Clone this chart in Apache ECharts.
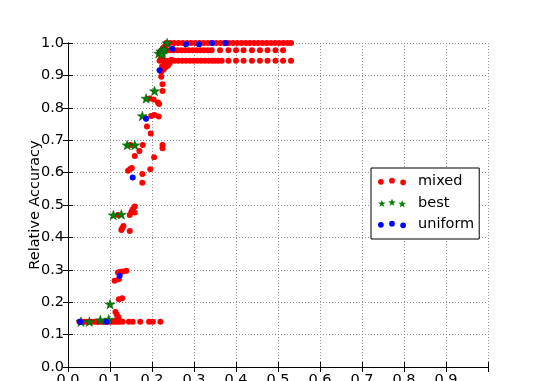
<!DOCTYPE html>
<html>
<head>
<meta charset="utf-8">
<script src="https://cdn.jsdelivr.net/npm/echarts@6/dist/echarts.min.js"></script>
<style>
  html, body { margin: 0; padding: 0; background: #fff; }
  #chart { width: 543px; height: 381px; }
</style>
</head>
<body>
<div id="chart"></div>
<script>
// mixed (red dots), grouped by the rows they sit on
const mixedRow100 = [
  [0.234, 1.0], [0.243, 1.0], [0.253, 1.0], [0.263, 1.0], [0.273, 1.0], [0.283, 1.0],
  [0.293, 1.0], [0.303, 1.0], [0.313, 1.0], [0.323, 1.0], [0.333, 1.0], [0.343, 1.0],
  [0.353, 1.0], [0.363, 1.0], [0.373, 1.0], [0.383, 1.0], [0.393, 1.0], [0.403, 1.0],
  [0.413, 1.0], [0.423, 1.0], [0.433, 1.0], [0.443, 1.0], [0.453, 1.0], [0.463, 1.0],
  [0.473, 1.0], [0.483, 1.0], [0.493, 1.0], [0.503, 1.0], [0.513, 1.0], [0.523, 1.0],
  [0.531, 1.0]
]
const mixedRow098 = [
  [0.234, 0.978], [0.243, 0.978], [0.252, 0.978], [0.261, 0.978], [0.270, 0.978],
  [0.279, 0.978], [0.288, 0.978], [0.297, 0.978], [0.306, 0.978], [0.315, 0.978],
  [0.324, 0.978], [0.333, 0.978], [0.342, 0.978], [0.362, 0.978], [0.382, 0.978],
  [0.400, 0.978], [0.418, 0.978], [0.438, 0.978], [0.457, 0.978], [0.475, 0.978],
  [0.494, 0.978], [0.512, 0.978]
]
const mixedRow095 = [
  [0.218, 0.945], [0.227, 0.945], [0.236, 0.945], [0.245, 0.945], [0.254, 0.945],
  [0.263, 0.945], [0.272, 0.945], [0.281, 0.945], [0.290, 0.945], [0.299, 0.945],
  [0.308, 0.945], [0.317, 0.945], [0.326, 0.945], [0.335, 0.945], [0.343, 0.945],
  [0.350, 0.945], [0.358, 0.945], [0.366, 0.945], [0.382, 0.945], [0.400, 0.945],
  [0.418, 0.945], [0.438, 0.945], [0.457, 0.945], [0.475, 0.945], [0.494, 0.945],
  [0.512, 0.945], [0.531, 0.945]
]
const mixedTop = [
  [0.218, 0.970], [0.223, 0.978], [0.227, 0.985], [0.231, 0.990], [0.235, 0.995],
  [0.222, 0.955], [0.226, 0.950], [0.230, 0.940], [0.234, 0.935], [0.238, 0.930],
  [0.242, 0.938], [0.246, 0.948], [0.232, 0.925], [0.228, 0.918], [0.224, 0.928],
  [0.222, 0.911], [0.222, 0.896], [0.225, 0.873], [0.225, 0.852]
]
const mixedRise = [
  [0.194, 0.829], [0.204, 0.826], [0.214, 0.816], [0.217, 0.812],
  [0.198, 0.775], [0.206, 0.778], [0.216, 0.773],
  [0.188, 0.742], [0.197, 0.721],
  [0.149, 0.685], [0.178, 0.685], [0.225, 0.685], [0.225, 0.675], [0.170, 0.667],
  [0.159, 0.651], [0.205, 0.647],
  [0.143, 0.606], [0.148, 0.611], [0.152, 0.614], [0.177, 0.596], [0.196, 0.610],
  [0.177, 0.569],
  [0.159, 0.495], [0.154, 0.487], [0.151, 0.479], [0.159, 0.477], [0.147, 0.469],
  [0.119, 0.469],
  [0.132, 0.435], [0.129, 0.428], [0.127, 0.423], [0.147, 0.420],
  [0.119, 0.292], [0.125, 0.294], [0.131, 0.295], [0.139, 0.297], [0.111, 0.266],
  [0.121, 0.271],
  [0.121, 0.209], [0.129, 0.212],
  [0.113, 0.170], [0.116, 0.162], [0.119, 0.155], [0.121, 0.148], [0.115, 0.145]
]
const mixedRow014 = [
  [0.027, 0.140], [0.033, 0.140], [0.039, 0.140], [0.045, 0.140], [0.051, 0.140],
  [0.057, 0.140], [0.063, 0.140], [0.069, 0.140], [0.075, 0.140], [0.081, 0.140],
  [0.087, 0.140], [0.093, 0.140], [0.099, 0.140], [0.105, 0.140], [0.111, 0.140],
  [0.117, 0.140], [0.123, 0.140], [0.130, 0.140], [0.145, 0.140], [0.154, 0.140],
  [0.172, 0.140], [0.193, 0.140], [0.202, 0.140], [0.220, 0.140]
]

// best (green stars)
const bestPoints = [
  [0.031, 0.140], [0.051, 0.140], [0.077, 0.145], [0.097, 0.147], [0.100, 0.194],
  [0.108, 0.469], [0.127, 0.471], [0.141, 0.685], [0.159, 0.685], [0.177, 0.775],
  [0.186, 0.829], [0.206, 0.852], [0.216, 0.968], [0.221, 0.975], [0.225, 0.972],
  [0.229, 0.980], [0.223, 0.965], [0.236, 1.0]
]

// uniform (blue dots)
const uniformPoints = [
  [0.029, 0.140], [0.092, 0.140], [0.123, 0.282], [0.154, 0.585], [0.186, 0.766],
  [0.218, 0.916], [0.249, 0.982], [0.281, 0.996], [0.312, 0.996], [0.343, 1.0],
  [0.375, 1.0]
]

const legendNames = ['mixed', 'best', 'uniform']
const yTitle = 'Relative Accuracy'

const FONT = 'DejaVu Sans'

// marker shapes
function starPath(cx, cy, R, r) {
  let d = ''
  for (let i = 0; i < 10; i++) {
    const a = (-90 + i * 36) * Math.PI / 180
    const rad = i % 2 ? r : R
    d += (i ? 'L' : 'M') + (cx + rad * Math.cos(a)).toFixed(2) + ',' + (cy + rad * Math.sin(a)).toFixed(2)
  }
  return d + 'Z'
}
function dotPath(cx, cy, r) {
  return 'M' + (cx - r) + ',' + cy + 'a' + r + ',' + r + ' 0 1,0 ' + (2 * r) + ',0a' + r + ',' + r + ' 0 1,0 ' + (-2 * r) + ',0Z'
}
const starSymbol = 'path://' + starPath(0, 0, 10, 4)
const dotsIcon = 'path://' + dotPath(3, 4, 2.6) + dotPath(13, 3, 2.6) + dotPath(23, 4.5, 2.6)
const starsIcon = 'path://' + starPath(4, 4.8, 4, 1.6) + starPath(14, 3.8, 4, 1.6) + starPath(24, 5.2, 4, 1.6)

const chart = echarts.init(document.getElementById('chart'), null, { renderer: 'canvas' })

const splitStyle = { show: true, lineStyle: { color: '#909090', type: [1, 2], width: 1 } }
const lineBlack = { show: true, lineStyle: { color: '#000', width: 1 } }
const tickIn = { show: true, inside: true, length: 5, lineStyle: { color: '#000' } }

const option = {
  animation: false,
  backgroundColor: '#fff',
  textStyle: { fontFamily: FONT },
  grid: { left: 68, right: 55, top: 43, bottom: 14, containLabel: false, outerBoundsMode: 'none' },
  legend: {
    orient: 'vertical',
    left: 371,
    top: 168,
    padding: [5, 5, 6, 7],
    itemGap: 4.5,
    itemWidth: 28,
    itemHeight: 9,
    backgroundColor: '#fff',
    borderColor: '#000',
    borderWidth: 1,
    borderRadius: 0,
    textStyle: { fontFamily: FONT, fontSize: 14.5, color: '#000', lineHeight: 17, padding: [0, 0, 0, 7] },
    data: [
      { name: legendNames[0], icon: dotsIcon, itemStyle: { color: '#ff0000', borderWidth: 0 } },
      { name: legendNames[1], icon: starsIcon, itemStyle: { color: '#008000', borderWidth: 0 } },
      { name: legendNames[2], icon: dotsIcon, itemStyle: { color: '#0000ff', borderWidth: 0 } }
    ]
  },
  xAxis: [
    {
      type: 'value', min: 0, max: 1, interval: 0.1, position: 'bottom',
      axisLine: lineBlack, axisTick: tickIn, splitLine: splitStyle,
      axisLabel: {
        margin: 6, color: '#000', fontFamily: FONT, fontSize: 14.5,
        formatter: v => (v > 0.95 ? '' : v.toFixed(1))
      }
    },
    {
      type: 'value', min: 0, max: 1, interval: 0.1, position: 'top',
      axisLine: lineBlack, axisTick: tickIn, splitLine: { show: false }, axisLabel: { show: false }
    }
  ],
  yAxis: [
    {
      type: 'value', min: 0, max: 1, interval: 0.1, position: 'left',
      name: yTitle, nameLocation: 'middle', nameGap: 25, nameRotate: 90, nameMoveOverlap: false,
      nameTextStyle: { color: '#000', fontFamily: FONT, fontSize: 14.5 },
      axisLine: lineBlack, axisTick: tickIn, splitLine: splitStyle,
      axisLabel: { margin: 4, color: '#000', fontFamily: FONT, fontSize: 14.5, formatter: v => v.toFixed(1) }
    },
    {
      type: 'value', min: 0, max: 1, interval: 0.1, position: 'right',
      axisLine: lineBlack, axisTick: tickIn, splitLine: { show: false }, axisLabel: { show: false }
    }
  ],
  series: [
    {
      name: legendNames[0], type: 'scatter', symbol: 'circle', symbolSize: 6,
      itemStyle: { color: '#ff0000', opacity: 1 },
      data: [].concat(mixedRow014, mixedRise, mixedTop, mixedRow095, mixedRow098, mixedRow100)
    },
    {
      name: legendNames[1], type: 'scatter', symbol: starSymbol, symbolSize: 10, symbolKeepAspect: true,
      itemStyle: { color: '#008000', borderColor: '#005500', borderWidth: 0.5, opacity: 1 },
      data: bestPoints
    },
    {
      name: legendNames[2], type: 'scatter', symbol: 'circle', symbolSize: 6,
      itemStyle: { color: '#0000ff', opacity: 1 },
      data: uniformPoints
    }
  ]
}

chart.setOption(option)
</script>
</body>
</html>
